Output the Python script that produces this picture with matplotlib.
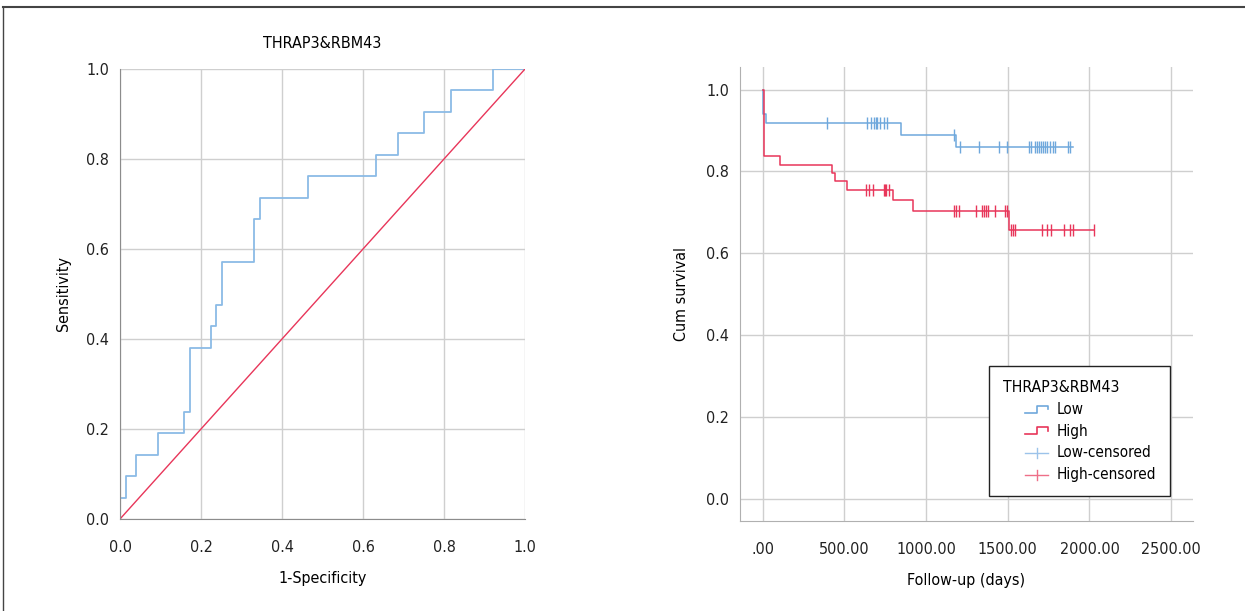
import numpy as np
import matplotlib
matplotlib.use('Agg')
import matplotlib.pyplot as plt
from matplotlib.lines import Line2D
from matplotlib.legend_handler import HandlerBase

plt.rcParams['font.family'] = ['DejaVu Sans']
plt.rcParams['font.stretch'] = 'condensed'
plt.rcParams['font.size'] = 11.5

# ROC curve (corners of the step curve)
roc_fpr = [0, 0, 0.015, 0.040, 0.095, 0.159, 0.173, 0.225, 0.238, 0.252,
           0.330, 0.345, 0.463, 0.633, 0.686, 0.751, 0.817, 0.922, 1.0]
roc_hits = [0, 1, 2, 3, 4, 5, 8, 9, 10, 12, 14, 15, 16, 17, 18, 19, 20, 21, 21]
n_pos = 21

# Kaplan-Meier curves
low_times = [0, 3, 20, 846, 1183]
low_surv = [1.0, 0.940, 0.917, 0.889, 0.860]
low_end = 1901
low_cens = [395, 636, 661, 683, 691, 699, 718, 744, 758, 1169, 1207, 1324, 1448,
            1493, 1632, 1642, 1668, 1680, 1693, 1705, 1717, 1729, 1742, 1758,
            1774, 1788, 1870, 1881]

high_times = [0, 10, 104, 422, 441, 516, 795, 922, 1509]
high_surv = [1.0, 0.837, 0.816, 0.796, 0.776, 0.755, 0.729, 0.703, 0.656]
high_end = 2029
high_cens = [630, 651, 673, 742, 747, 753, 775, 1171, 1185, 1199, 1307, 1344,
             1352, 1365, 1381, 1423, 1483, 1497, 1521, 1533, 1546, 1711, 1738,
             1762, 1844, 1881, 1901, 2029]

blue = '#6fa8dc'
red = '#e8365a'
grid_c = '#cfcfcf'
spine_c = '#8c8c8c'


class GlyphHandler(HandlerBase):
    # draws the legend glyph in the right half of the handle box (indented entries)
    def __init__(self, kind):
        super().__init__()
        self.kind = kind

    def create_artists(self, legend, orig_handle, xdescent, ydescent,
                       width, height, fontsize, trans):
        c = orig_handle.get_color()
        xa = -xdescent + width * 0.5
        xb = -xdescent + width
        if self.kind == 'step':
            y0 = -ydescent + height * 0.1
            y1 = -ydescent + height * 0.75
            xm = (xa + xb) / 2
            ln = Line2D([xa, xm, xm, xb, xb], [y0, y0, y1, y1, y1 - height * 0.3],
                        color=c, lw=1.2, transform=trans)
            return [ln]
        yc = -ydescent + height * 0.4
        h = Line2D([xa, xb], [yc, yc], color=c, lw=1.0, transform=trans)
        xm = (xa + xb) / 2
        v = Line2D([xm, xm], [yc - height * 0.45, yc + height * 0.45], color=c,
                   lw=1.0, transform=trans)
        return [h, v]


def km_step(times, surv, end):
    return list(times) + [end], list(surv) + [surv[-1]]


def level_at(times, surv, t):
    idx = np.searchsorted(times, t, side='right') - 1
    return np.array(surv)[idx]


fig = plt.figure(figsize=(12.45, 6.11), dpi=100)

# ---- ROC ----
ax1 = fig.add_axes([0.0964, 0.1506, 0.3253, 0.7365])
ax1.plot(roc_fpr, np.array(roc_hits) / n_pos, drawstyle='steps-post',
         color='#8bbbe6', lw=1.3)
ax1.plot([0, 1], [0, 1], color=red, lw=1.0)
ax1.set_xlim(0, 1)
ax1.set_ylim(0, 1)
ax1.set_xticks(np.arange(0, 1.01, 0.2))
ax1.set_yticks(np.arange(0, 1.01, 0.2))
ax1.set_xticklabels(['0.0', '0.2', '0.4', '0.6', '0.8', '1.0'])
ax1.set_yticklabels(['0.0', '0.2', '0.4', '0.6', '0.8', '1.0'])
ax1.grid(True, color=grid_c, lw=1)
ax1.set_axisbelow(True)
for s in ['top', 'right']:
    ax1.spines[s].set_visible(False)
for s in ['left', 'bottom']:
    ax1.spines[s].set_color(spine_c)
ax1.tick_params(axis='x', length=0, pad=15, colors='#222222')
ax1.tick_params(axis='y', length=0, pad=8, colors='#222222')
ax1.set_title('THRAP3&RBM43', fontsize=11.5, pad=15)
ax1.set_xlabel('1-Specificity', labelpad=12)
ax1.set_ylabel('Sensitivity', labelpad=11)

# ---- Kaplan-Meier ----
ax2 = fig.add_axes([0.5944, 0.1473, 0.3639, 0.743])
lx, ly = km_step(low_times, low_surv, low_end)
hx, hy = km_step(high_times, high_surv, high_end)
ax2.plot(lx, ly, drawstyle='steps-post', color=blue, lw=1.1)
ax2.plot(hx, hy, drawstyle='steps-post', color=red, lw=1.1)
ax2.plot(low_cens, level_at(low_times, low_surv, low_cens), ls='none',
         marker='|', ms=8, mew=1.0, color=blue)
ax2.plot(high_cens, level_at(high_times, high_surv, high_cens), ls='none',
         marker='|', ms=8, mew=1.0, color=red)
ax2.set_xlim(-139, 2634)
ax2.set_ylim(-0.055, 1.055)
ax2.set_xticks([0, 500, 1000, 1500, 2000, 2500])
ax2.set_xticklabels(['.00', '500.00', '1000.00', '1500.00', '2000.00', '2500.00'])
ax2.set_yticks(np.arange(0, 1.01, 0.2))
ax2.set_yticklabels(['0.0', '0.2', '0.4', '0.6', '0.8', '1.0'])
ax2.grid(True, color=grid_c, lw=1)
ax2.set_axisbelow(True)
for s in ['top', 'right']:
    ax2.spines[s].set_visible(False)
for s in ['left', 'bottom']:
    ax2.spines[s].set_color('#b0b0b0')
ax2.tick_params(axis='x', length=0, pad=15, colors='#222222')
ax2.tick_params(axis='y', length=0, pad=8, colors='#222222')
ax2.set_xlabel('Follow-up (days)', labelpad=12)
ax2.set_ylabel('Cum survival', labelpad=12)

h_low = Line2D([], [], color=blue)
h_high = Line2D([], [], color=red)
h_lc = Line2D([], [], color='#9cc3ea')
h_hc = Line2D([], [], color='#ee6f88')
leg = ax2.legend([h_low, h_high, h_lc, h_hc],
                 ['Low', 'High', 'Low-censored', 'High-censored'],
                 title='THRAP3&RBM43', loc='upper left',
                 bbox_to_anchor=(0.5497, 0.3414),
                 handler_map={h_low: GlyphHandler('step'),
                              h_high: GlyphHandler('step'),
                              h_lc: GlyphHandler('plus'),
                              h_hc: GlyphHandler('plus')},
                 fancybox=False, edgecolor='#222222', framealpha=1,
                 handlelength=2.95, handletextpad=0.6, labelspacing=0.45,
                 borderpad=0.9, borderaxespad=0, fontsize=11,
                 title_fontsize=11.3)
leg._legend_box.align = 'left'
leg.get_frame().set_linewidth(1.0)

# outer frame (top and left edges)
fig.add_artist(Line2D([0.0025, 1], [1 - 7 / 611, 1 - 7 / 611], color='#444444',
                      lw=1.5, transform=fig.transFigure))
fig.add_artist(Line2D([0.0025, 0.0025], [0, 1 - 7 / 611], color='#444444',
                      lw=1.0, transform=fig.transFigure))

fig.savefig('out.png', dpi=100)
